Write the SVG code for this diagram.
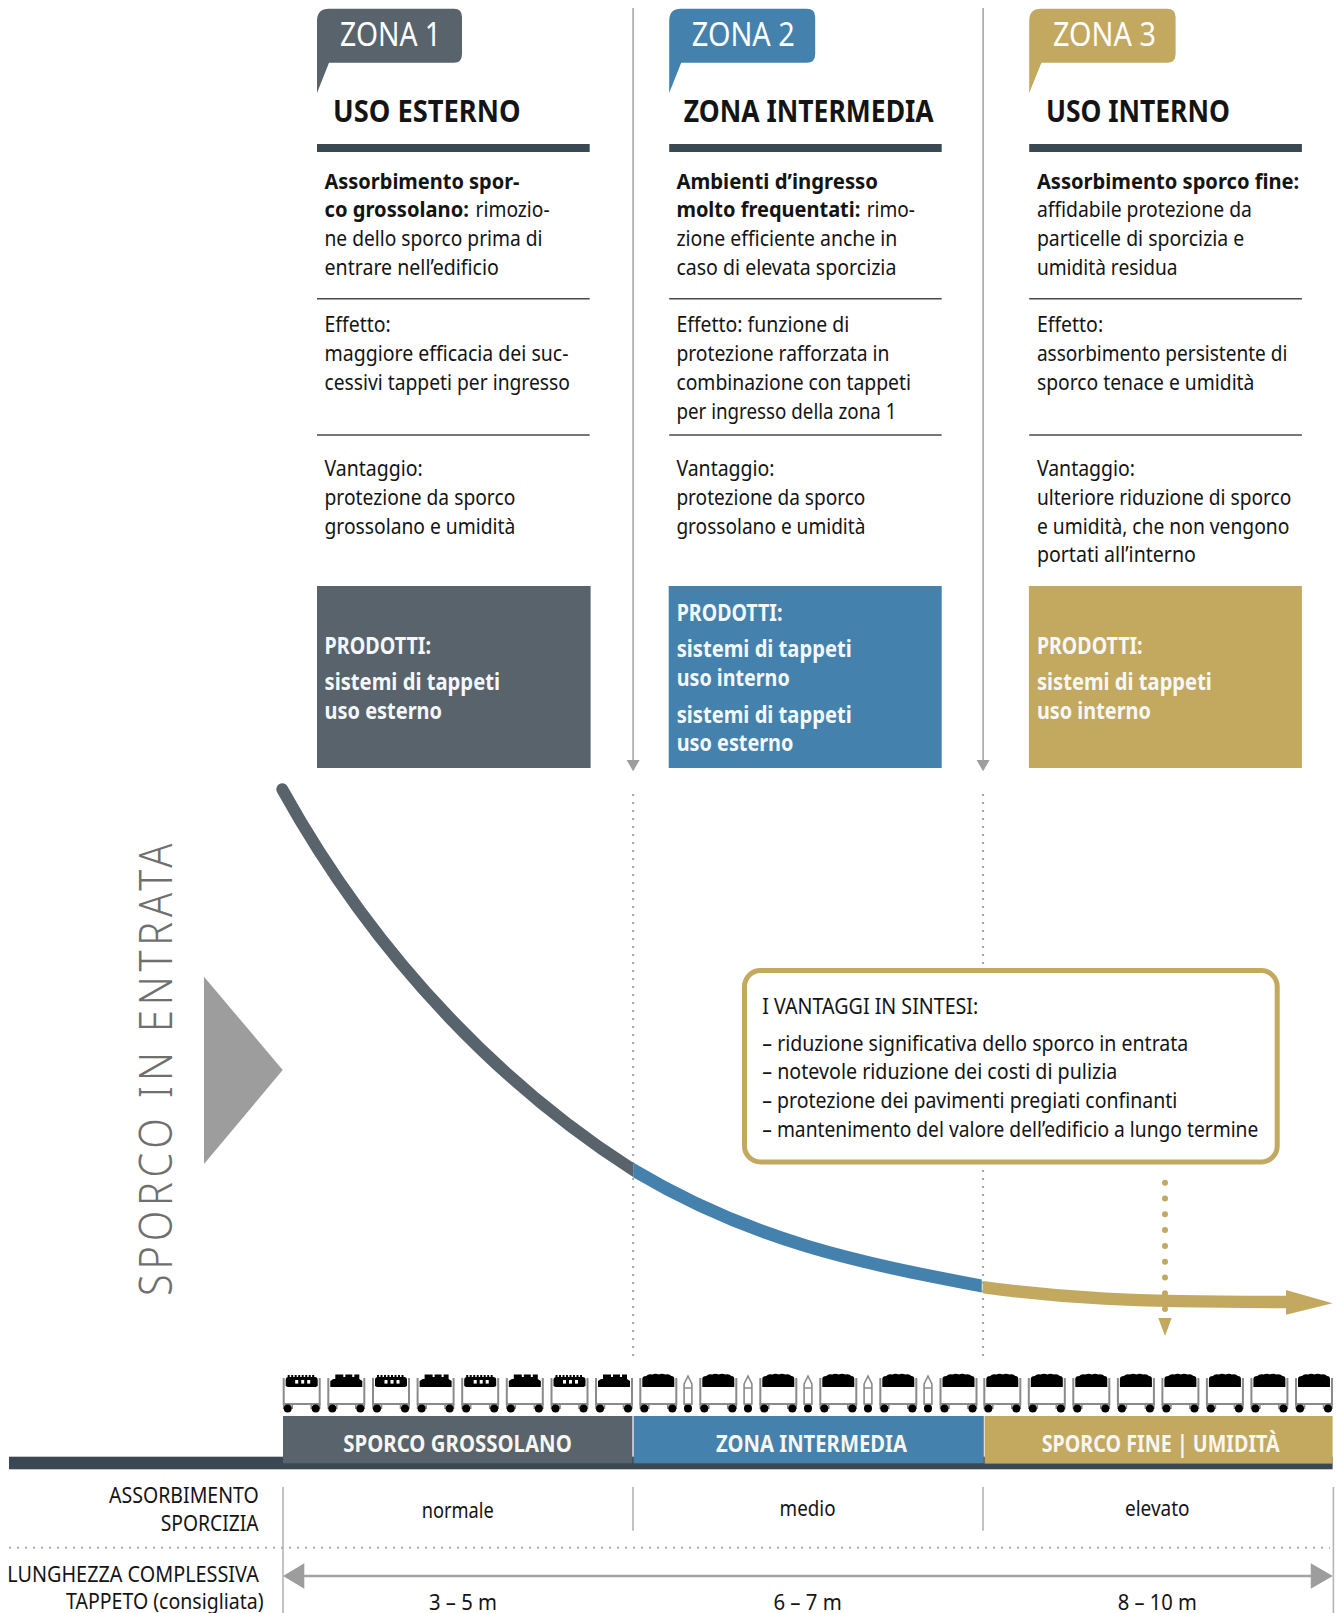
<svg xmlns="http://www.w3.org/2000/svg" xmlns:xlink="http://www.w3.org/1999/xlink" width="1341" height="1613" viewBox="0 0 1341 1613">
<style>
text{font-family:"Noto Sans","Open Sans",sans-serif;fill:#141414}
.b{font-size:21px}
.bb{font-size:21px;font-weight:700}
.h{font-size:30.5px;font-weight:700}
.z{font-size:33px;fill:#fff;font-weight:400}
.p{font-size:22.5px;font-weight:700;fill:#f5f8fa}
.band{font-size:23px;font-weight:700;fill:#f8f6f0}
.dark{fill:#3a4853}
.c1{fill:#58636c}
.c2{fill:#4482ad}
.c3{fill:#c2a95f}
.rule{stroke:#4a4a4a;stroke-width:1.5;fill:none}
.guide{stroke:#a8a8a8;stroke-width:1.6;fill:none}
.head{fill:#9d9d9d}
.dots{stroke:#a3a3a3;stroke-width:2;stroke-dasharray:2 6;fill:none}
.tick{stroke:#b5b5b5;stroke-width:1.6;fill:none}
.fr{fill:#fff;stroke:#8a8a8a;stroke-width:2}
.frs{fill:#fff;stroke:#8a8a8a;stroke-width:1.6}
.in{stroke:#8a8a8a;stroke-width:1.6;fill:none}
</style>
<defs>
<clipPath id="clipGrey"><rect x="260" y="770" width="373.2" height="420"/></clipPath>
<clipPath id="clipBlue"><rect x="633.2" y="1140" width="348.6" height="170"/></clipPath>
<clipPath id="clipGold"><rect x="982.6" y="1270" width="320" height="50"/></clipPath>
<g id="base">
<path class="fr" d="M1 6V32H37V6"/>
<path class="in" d="M1 32V37M9.5 32V37M28.5 32V37M37 32V37"/>
<circle cx="5" cy="36.5" r="4"/><circle cx="33" cy="36.5" r="4"/>
</g>
<g id="cartA">
<use xlink:href="#base" href="#base"/>
<path d="M3 14V8Q3 5 6 5H32Q35 5 35 8V14L33 15H5Z"/>
<path d="M5 4.6H33" stroke="#000" stroke-width="3" stroke-dasharray="2 1.5" fill="none"/>
<rect x="12.5" y="8" width="3" height="3.6" fill="#fff"/><rect x="18.5" y="8" width="3" height="3.6" fill="#fff"/><rect x="24.5" y="8" width="3" height="3.6" fill="#fff"/>
</g>
<g id="cartB">
<use xlink:href="#base" href="#base"/>
<path d="M3 15V9L6 7H8V2.5H16V5H18V2.5H25V5H27V2.5H32V7L35 9V15Z"/>
</g>
<g id="cartC">
<use xlink:href="#base" href="#base"/>
<path d="M3 15V7Q3 4 7 4Q9 1.5 13 2.6Q16 .8 19.5 2.4Q23 .8 26 2.6Q30 1.5 32 4Q35 4 35 7V15Z"/>
</g>
<g id="bullet">
<path class="frs" d="M.8 12L4.7 4L8.6 12V32H.8Z"/>
<path class="in" d="M.8 16H8.6M2 32V37M7.4 32V37"/>
<circle cx="4.7" cy="36.5" r="4"/>
</g>
</defs>
<rect width="1341" height="1613" fill="#fff"/>

<g id="guides" transform="translate(.6 0)">
<path class="guide" d="M632.5 8V761M982.5 8V761"/>
<path class="head" d="M626 760H639L632.5 771.3ZM976 760H989L982.5 771.3Z"/>
<path class="dots" d="M632.5 794V1362M982.5 794V1362"/>
</g>

<g id="zone1">
<path class="c1" d="M317 21Q317 8.7 329 8.7H454Q462 8.7 462 17V54Q462 62.7 454 62.7H329L317 93Z"/>
<text class="z" x="340" y="45.5" textLength="101" lengthAdjust="spacingAndGlyphs">ZONA 1</text>
<text class="h" x="333" y="121.7" textLength="187.5" lengthAdjust="spacingAndGlyphs">USO ESTERNO</text>
<rect class="dark" x="317" y="144" width="272.7" height="8"/>
<text class="bb" x="324.5" y="189" textLength="195" lengthAdjust="spacingAndGlyphs">Assorbimento spor-</text>
<text class="bb" x="324.5" y="217" textLength="144.4" lengthAdjust="spacingAndGlyphs">co grossolano:</text>
<text class="b" x="475.6" y="217" textLength="74" lengthAdjust="spacingAndGlyphs">rimozio-</text>
<text class="b" x="324.5" y="246" textLength="218" lengthAdjust="spacingAndGlyphs">ne dello sporco prima di</text>
<text class="b" x="324.5" y="275" textLength="174.4" lengthAdjust="spacingAndGlyphs">entrare nell’edificio</text>
<path class="rule" d="M317 298.7H589.7"/>
<text class="b" x="324.5" y="331.7" textLength="66.2" lengthAdjust="spacingAndGlyphs">Effetto:</text>
<text class="b" x="324.5" y="360.5" textLength="244" lengthAdjust="spacingAndGlyphs">maggiore efficacia dei suc-</text>
<text class="b" x="324.5" y="389.5" textLength="245.4" lengthAdjust="spacingAndGlyphs">cessivi tappeti per ingresso</text>
<path class="rule" d="M317 435H589.7"/>
<text class="b" x="324.5" y="475.7" textLength="98.2" lengthAdjust="spacingAndGlyphs">Vantaggio:</text>
<text class="b" x="324.5" y="504.5" textLength="190.8" lengthAdjust="spacingAndGlyphs">protezione da sporco</text>
<text class="b" x="324.5" y="534" textLength="190.8" lengthAdjust="spacingAndGlyphs">grossolano e umidità</text>
<rect class="c1" x="317" y="586" width="273.6" height="182"/>
<text class="p" x="324.5" y="653.8" textLength="106.5" lengthAdjust="spacingAndGlyphs">PRODOTTI:</text>
<text class="p" x="324.5" y="689.8" textLength="175.5" lengthAdjust="spacingAndGlyphs">sistemi di tappeti</text>
<text class="p" x="324.5" y="719.4" textLength="117.5" lengthAdjust="spacingAndGlyphs">uso esterno</text>
</g>

<g id="zone2" transform="translate(.7 0)">
<path class="c2" d="M668.5 21Q668.5 8.7 680 8.7H806Q814.5 8.7 814.5 17V54Q814.5 62.7 806 62.7H680.5L668.5 93Z"/>
<text class="z" x="691" y="45.5" textLength="103" lengthAdjust="spacingAndGlyphs">ZONA 2</text>
<text class="h" x="683" y="121.7" textLength="250" lengthAdjust="spacingAndGlyphs">ZONA INTERMEDIA</text>
<rect class="dark" x="668.5" y="144" width="272.5" height="8"/>
<text class="bb" x="675.7" y="189" textLength="201.6" lengthAdjust="spacingAndGlyphs">Ambienti d’ingresso</text>
<text class="bb" x="675.7" y="217" textLength="184" lengthAdjust="spacingAndGlyphs">molto frequentati:</text>
<text class="b" x="866" y="217" textLength="48.3" lengthAdjust="spacingAndGlyphs">rimo-</text>
<text class="b" x="675.7" y="246" textLength="221" lengthAdjust="spacingAndGlyphs">zione efficiente anche in</text>
<text class="b" x="675.7" y="275" textLength="220" lengthAdjust="spacingAndGlyphs">caso di elevata sporcizia</text>
<path class="rule" d="M668.5 298.7H941"/>
<text class="b" x="675.7" y="331.7" textLength="172.8" lengthAdjust="spacingAndGlyphs">Effetto: funzione di</text>
<text class="b" x="675.7" y="360.5" textLength="213" lengthAdjust="spacingAndGlyphs">protezione rafforzata in</text>
<text class="b" x="675.7" y="389.5" textLength="234.5" lengthAdjust="spacingAndGlyphs">combinazione con tappeti</text>
<text class="b" x="675.7" y="418.5" textLength="220" lengthAdjust="spacingAndGlyphs">per ingresso della zona 1</text>
<path class="rule" d="M668.5 435H941"/>
<text class="b" x="675.7" y="475.7" textLength="98.2" lengthAdjust="spacingAndGlyphs">Vantaggio:</text>
<text class="b" x="675.7" y="504.5" textLength="189" lengthAdjust="spacingAndGlyphs">protezione da sporco</text>
<text class="b" x="675.7" y="534" textLength="189" lengthAdjust="spacingAndGlyphs">grossolano e umidità</text>
<rect class="c2" x="668" y="586" width="273" height="182"/>
<text class="p" x="676" y="620.7" textLength="105.7" lengthAdjust="spacingAndGlyphs">PRODOTTI:</text>
<text class="p" x="676" y="656.7" textLength="175" lengthAdjust="spacingAndGlyphs">sistemi di tappeti</text>
<text class="p" x="676" y="686" textLength="113" lengthAdjust="spacingAndGlyphs">uso interno</text>
<text class="p" x="676" y="722.7" textLength="175" lengthAdjust="spacingAndGlyphs">sistemi di tappeti</text>
<text class="p" x="676" y="751" textLength="116.7" lengthAdjust="spacingAndGlyphs">uso esterno</text>
</g>

<g id="zone3" transform="translate(.9 0)">
<path class="c3" d="M1028.3 21Q1028.3 8.7 1040 8.7H1166Q1174.7 8.7 1174.7 17V54Q1174.7 62.7 1166 62.7H1040.5L1028.3 93Z"/>
<text class="z" x="1052" y="45.5" textLength="103" lengthAdjust="spacingAndGlyphs">ZONA 3</text>
<text class="h" x="1045" y="121.7" textLength="184" lengthAdjust="spacingAndGlyphs">USO INTERNO</text>
<rect class="dark" x="1028.3" y="144" width="272.7" height="8"/>
<text class="bb" x="1036" y="189" textLength="262.3" lengthAdjust="spacingAndGlyphs">Assorbimento sporco fine:</text>
<text class="b" x="1036" y="217" textLength="215" lengthAdjust="spacingAndGlyphs">affidabile protezione da</text>
<text class="b" x="1036" y="246" textLength="207.3" lengthAdjust="spacingAndGlyphs">particelle di sporcizia e</text>
<text class="b" x="1036" y="275" textLength="140.7" lengthAdjust="spacingAndGlyphs">umidità residua</text>
<path class="rule" d="M1028.3 298.7H1301"/>
<text class="b" x="1036" y="331.7" textLength="66.2" lengthAdjust="spacingAndGlyphs">Effetto:</text>
<text class="b" x="1036" y="360.5" textLength="250.4" lengthAdjust="spacingAndGlyphs">assorbimento persistente di</text>
<text class="b" x="1036" y="389.5" textLength="217.5" lengthAdjust="spacingAndGlyphs">sporco tenace e umidità</text>
<path class="rule" d="M1028.3 435H1301"/>
<text class="b" x="1036" y="475.7" textLength="98.2" lengthAdjust="spacingAndGlyphs">Vantaggio:</text>
<text class="b" x="1036" y="504.5" textLength="254.5" lengthAdjust="spacingAndGlyphs">ulteriore riduzione di sporco</text>
<text class="b" x="1036" y="534" textLength="252.5" lengthAdjust="spacingAndGlyphs">e umidità, che non vengono</text>
<text class="b" x="1036" y="562" textLength="159" lengthAdjust="spacingAndGlyphs">portati all’interno</text>
<rect class="c3" x="1028" y="586" width="273" height="182"/>
<text class="p" x="1036" y="654" textLength="105.7" lengthAdjust="spacingAndGlyphs">PRODOTTI:</text>
<text class="p" x="1036" y="690" textLength="175" lengthAdjust="spacingAndGlyphs">sistemi di tappeti</text>
<text class="p" x="1036" y="719.4" textLength="114" lengthAdjust="spacingAndGlyphs">uso interno</text>
</g>

<g id="axis-label">
<text transform="translate(172 1296) rotate(-90) scale(.86 1)" font-size="46" font-weight="300" style="fill:#706f6f" textLength="526">SPORCO IN ENTRATA</text>
<path class="head" d="M204 976.7L282.7 1070L204 1164Z"/>
</g>

<g id="curve">
<path d="M282.3 789.3C382 969 512.5 1092.7 632.5 1169.5L650 1180.7" fill="none" stroke="#58636c" stroke-width="12" stroke-linecap="round" clip-path="url(#clipGrey)"/>
<path d="M615 1159L632.5 1169.5C752.5 1241.5 861 1263 981.7 1286L995 1288.5" fill="none" stroke="#4482ad" stroke-width="12.8" clip-path="url(#clipBlue)"/>
<path d="M970 1285.5L982.6 1287C1060 1298 1130 1302 1287 1302" fill="none" stroke="#c2a95f" stroke-width="12.3" clip-path="url(#clipGold)"/>
<path class="c3" d="M1286 1290L1332.6 1303.3L1286 1314.7Z"/>
<path d="M1165 1182.7V1310" fill="none" stroke="#c2a95f" stroke-width="6" stroke-linecap="round" stroke-dasharray="0 15.8"/>
<path class="c3" d="M1158.3 1318H1171.7L1165 1336Z"/>
</g>

<g id="summary">
<rect x="744.5" y="970.5" width="532.7" height="191.5" rx="16" fill="#fff" stroke="#c2a95f" stroke-width="5"/>
<text class="b" x="762.3" y="1014.3" textLength="216" lengthAdjust="spacingAndGlyphs">I VANTAGGI IN SINTESI:</text>
<text class="b" x="762.3" y="1051" textLength="426" lengthAdjust="spacingAndGlyphs">– riduzione significativa dello sporco in entrata</text>
<text class="b" x="762.3" y="1079" textLength="355" lengthAdjust="spacingAndGlyphs">– notevole riduzione dei costi di pulizia</text>
<text class="b" x="762.3" y="1107.5" textLength="415" lengthAdjust="spacingAndGlyphs">– protezione dei pavimenti pregiati confinanti</text>
<text class="b" x="762.3" y="1136.5" textLength="496" lengthAdjust="spacingAndGlyphs">– mantenimento del valore dell’edificio a lungo termine</text>
</g>

<g id="carts" transform="translate(0 1372)">
<use xlink:href="#cartA" href="#cartA" x="282.7"/><use xlink:href="#cartB" href="#cartB" x="327.3"/>
<use xlink:href="#cartA" href="#cartA" x="372"/><use xlink:href="#cartB" href="#cartB" x="416.6"/>
<use xlink:href="#cartA" href="#cartA" x="461.2"/><use xlink:href="#cartB" href="#cartB" x="505.8"/>
<use xlink:href="#cartA" href="#cartA" x="550.5"/><use xlink:href="#cartB" href="#cartB" x="595"/>
<use xlink:href="#cartC" href="#cartC" x="639.3"/><use xlink:href="#bullet" href="#bullet" x="683.3"/>
<use xlink:href="#cartC" href="#cartC" x="699.3"/><use xlink:href="#bullet" href="#bullet" x="743.3"/>
<use xlink:href="#cartC" href="#cartC" x="759.3"/><use xlink:href="#bullet" href="#bullet" x="803.3"/>
<use xlink:href="#cartC" href="#cartC" x="819.3"/><use xlink:href="#bullet" href="#bullet" x="863.3"/>
<use xlink:href="#cartC" href="#cartC" x="879.3"/><use xlink:href="#bullet" href="#bullet" x="923.3"/>
<use xlink:href="#cartC" href="#cartC" x="939.5"/>
<use xlink:href="#cartC" href="#cartC" x="983.3"/><use xlink:href="#cartC" href="#cartC" x="1027.8"/>
<use xlink:href="#cartC" href="#cartC" x="1072.3"/><use xlink:href="#cartC" href="#cartC" x="1116.9"/>
<use xlink:href="#cartC" href="#cartC" x="1161.4"/><use xlink:href="#cartC" href="#cartC" x="1205.9"/>
<use xlink:href="#cartC" href="#cartC" x="1250.4"/><use xlink:href="#cartC" href="#cartC" x="1295"/>
</g>

<g id="bands">
<rect class="dark" x="9" y="1456.7" width="1323.6" height="12.6"/>
<rect class="c1" x="283" y="1416" width="349.4" height="47.3"/>
<rect class="c2" x="633.6" y="1416" width="350.2" height="47.3"/>
<rect class="c3" x="984.6" y="1416" width="348" height="47.6"/>
<text class="band" x="343.3" y="1451.7" textLength="228.5" lengthAdjust="spacingAndGlyphs">SPORCO GROSSOLANO</text>
<text class="band" x="716" y="1451.7" textLength="191" lengthAdjust="spacingAndGlyphs">ZONA INTERMEDIA</text>
<text class="band" x="1041.7" y="1451.7" textLength="238" lengthAdjust="spacingAndGlyphs">SPORCO FINE | UMIDITÀ</text>
</g>

<g id="table">
<path class="tick" d="M283 1487V1613M1333.4 1487V1613M633 1487V1530.7M983 1487V1530.7"/>
<path class="dots" d="M9 1547.7H1330" style="stroke:#aaa"/>
<path d="M300 1576H1314" fill="none" stroke="#a3a3a3" stroke-width="2.6"/>
<path class="head" d="M283 1576L304.3 1563.3V1588.7ZM1332.8 1576L1310.8 1563.3V1588.7Z"/>
<text class="b" x="109" y="1502.7" textLength="149.8" lengthAdjust="spacingAndGlyphs">ASSORBIMENTO</text>
<text class="b" x="160.7" y="1530.7" textLength="98" lengthAdjust="spacingAndGlyphs">SPORCIZIA</text>
<text class="b" x="7.3" y="1581.7" textLength="251.5" lengthAdjust="spacingAndGlyphs">LUNGHEZZA COMPLESSIVA</text>
<text class="b" x="66" y="1609.3" textLength="197.6" lengthAdjust="spacingAndGlyphs">TAPPETO (consigliata)</text>
<text class="b" x="421.7" y="1518" textLength="72" lengthAdjust="spacingAndGlyphs">normale</text>
<text class="b" x="779.6" y="1515.7" textLength="56" lengthAdjust="spacingAndGlyphs">medio</text>
<text class="b" x="1125" y="1515.7" textLength="64.5" lengthAdjust="spacingAndGlyphs">elevato</text>
<text class="b" x="429" y="1610" textLength="68" lengthAdjust="spacingAndGlyphs">3 – 5 m</text>
<text class="b" x="773.4" y="1610" textLength="68.5" lengthAdjust="spacingAndGlyphs">6 – 7 m</text>
<text class="b" x="1117.7" y="1610" textLength="79.3" lengthAdjust="spacingAndGlyphs">8 – 10 m</text>
</g>
</svg>
